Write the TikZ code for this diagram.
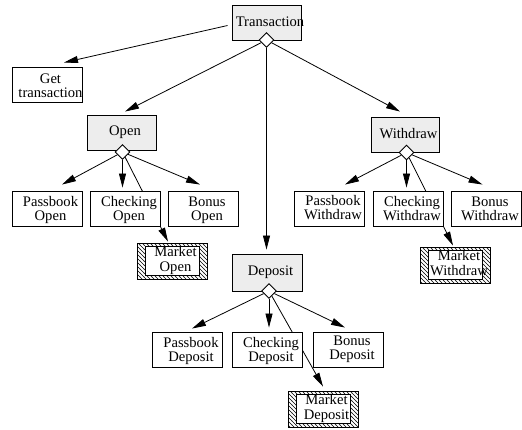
\documentclass[tikz,border=0pt]{standalone}
\usepackage{fontspec}
\setmainfont{Liberation Serif}
\usetikzlibrary{arrows.meta,shapes.geometric,patterns,backgrounds}
\newcommand\tx[2][-2pt]{\makebox[0pt]{\hspace{7pt}\raisebox{#1}[\height][\depth]{\begin{tabular}{@{}c@{}}#2\end{tabular}}}}
\pgfdeclarepatternformonly{hatchnw}{\pgfqpoint{-1pt}{-1pt}}{\pgfqpoint{5pt}{5pt}}{\pgfqpoint{4pt}{4pt}}%
{\pgfsetlinewidth{0.6pt}\pgfpathmoveto{\pgfqpoint{-0.1pt}{4.1pt}}\pgfpathlineto{\pgfqpoint{4.1pt}{-0.1pt}}\pgfusepath{stroke}}
\begin{document}
\begin{tikzpicture}[x=1pt,y=-1pt,
  box/.style={draw=black,line width=0.9pt,fill=white,minimum width=70pt,minimum height=35pt,
    inner sep=0pt,font=\fontsize{14.6pt}{14.5pt}\selectfont},
  sbox/.style={box,fill=black!7},
  mkt/.style={box,minimum height=36pt,pattern=hatchnw,
    path picture={\draw[fill=white,line width=0.9pt]
      ([xshift=8pt,yshift=-3.5pt]path picture bounding box.north west) rectangle
      ([xshift=-8pt,yshift=3.5pt]path picture bounding box.south east);}},
  dia/.style={diamond,draw=black,line width=0.9pt,fill=white,minimum width=15pt,minimum height=15pt,inner sep=0pt},
  arr/.style={line width=0.8pt,-{Triangle[length=14pt,width=7pt]}}]
\useasboundingbox (0,0) rectangle (522,429);
% level 0
\node[sbox,minimum width=69pt] (trans) at (266.5,22.5) {\tx[-1.5pt]{Transaction}};
\node[dia] (td) at (266.5,40) {};
% level 1
\node[box] (get) at (47,84.5) {\tx[-3pt]{Get\\transaction}};
\node[sbox,minimum width=69pt] (open) at (121.5,132.5) {\tx[-0.5pt]{Open}};
\node[dia] (od) at (122.5,152) {};
\node[sbox,minimum width=68pt] (wd) at (405,134.5) {\tx[-1pt]{Withdraw}};
\node[dia] (wdd) at (406.5,152.5) {};
\node[sbox,minimum height=37pt] (dep) at (267,272.5) {\tx[0pt]{Deposit}};
\node[dia] (dd) at (269,291) {};
% open children
\node[box] (po) at (47,208.5) {\tx{Passbook\\Open}};
\node[box] (co) at (125.5,208.5) {\tx{Checking\\Open}};
\node[box] (bo) at (203.5,208.5) {\tx{Bonus\\Open}};
\node[mkt] (mo) at (172,261) {\tx[0pt]{Market\\Open}};
% withdraw children
\node[box] (pw) at (329.5,208.5) {\tx[-1pt]{Passbook\\Withdraw}};
\node[box] (cw) at (408.5,208.5) {\tx{Checking\\Withdraw}};
\node[box] (bw) at (486.5,208.5) {\tx{Bonus\\Withdraw}};
\node[mkt] (mw) at (455.5,265) {\tx[0pt]{Market\\Withdraw}};
% deposit children
\node[box] (pd) at (187.5,349.5) {\tx{Passbook\\Deposit}};
\node[box] (cd) at (267.5,349.5) {\tx{Checking\\Deposit}};
\node[box] (bd) at (348.5,349.5) {\tx[0pt]{Bonus\\Deposit}};
\node[mkt] (md) at (323,409) {\tx[0pt]{Market\\Deposit}};
\begin{scope}[on background layer]
\draw[arr] ([xshift=-4pt,yshift=-3pt]trans.west) -- ([xshift=17pt,yshift=4pt]get.north);
\draw[arr] (td) -- ([xshift=3.5pt,yshift=3pt]open.north);
\draw[arr] (td.south) -- ([yshift=4pt]td.south |- dep.north);
\draw[arr] (td) -- ([xshift=-5pt,yshift=5pt]wd.north);
% open
\draw[arr] (od) -- ([xshift=15pt,yshift=6pt]po.north);
\draw[arr] (od.south) -- ([yshift=3pt]od.south |- co.north);
\draw[arr] (od) -- ([xshift=-3.5pt,yshift=6pt]bo.north);
\draw[arr] (od) -- ([xshift=-4pt,yshift=1pt]mo.north);
% withdraw
\draw[arr] (wdd) -- ([xshift=15.5pt,yshift=6pt]pw.north);
\draw[arr] (wdd.south) -- ([yshift=3pt]wdd.south |- cw.north);
\draw[arr] (wdd) -- ([xshift=-4pt,yshift=6pt]bw.north);
\draw[arr] (wdd) -- ([xshift=-2.5pt,yshift=1pt]mw.north);
% deposit
\draw[arr] (dd) -- ([xshift=4.5pt,yshift=3pt]pd.north);
\draw[arr] (dd.south) -- ([yshift=4pt]dd.south |- cd.north);
\draw[arr] (dd) -- ([xshift=-3.5pt,yshift=4pt]bd.north);
\draw[arr] (dd) -- ([yshift=4pt]md.north);
\end{scope}
\end{tikzpicture}
\end{document}
